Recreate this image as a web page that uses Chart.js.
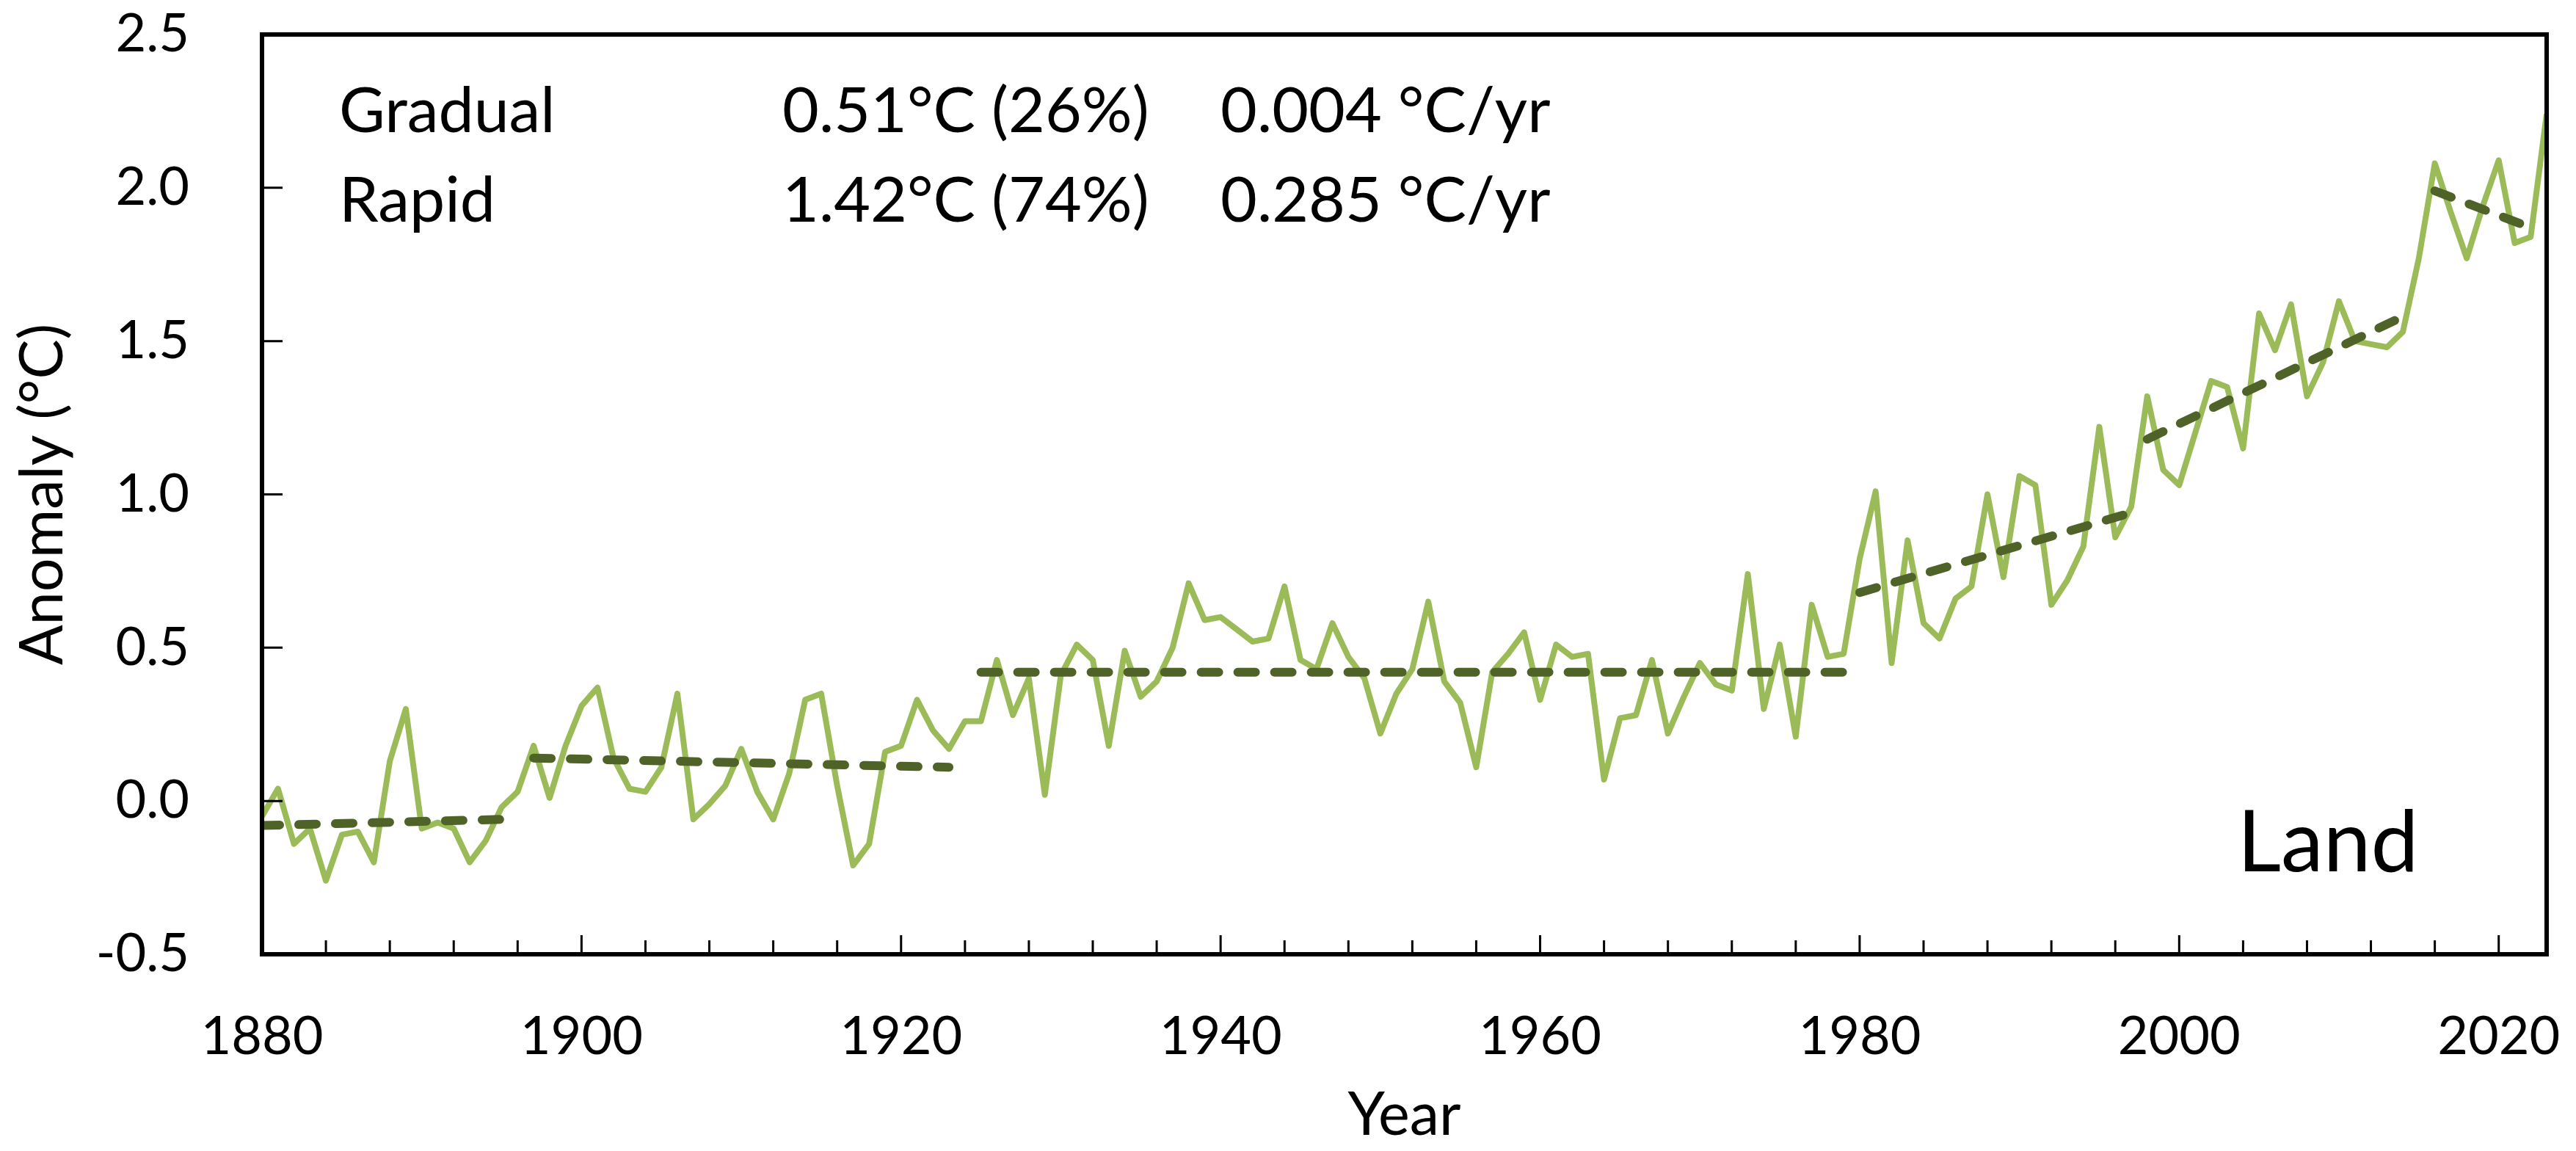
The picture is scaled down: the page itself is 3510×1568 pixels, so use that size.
<!DOCTYPE html>
<html>
<head>
<meta charset="utf-8">
<title>Land temperature anomaly</title>
<script src="https://cdn.jsdelivr.net/npm/chart.js@4.4.1/dist/chart.umd.min.js"></script>
<style>
  html, body { margin: 0; padding: 0; background: #fff; }
  #wrap { width: 3510px; height: 1568px; }
</style>
</head>
<body>
<div id="wrap"><canvas id="chart" width="3510" height="1568"></canvas></div>
<script>
// Land anomaly (°C), one value per year starting in 1880
const firstYear = 1880;
const anomaly = [
  -0.05, 0.04, -0.14, -0.09, -0.26, -0.11, -0.10, -0.20, 0.13, 0.30,   // 1880s
  -0.09, -0.07, -0.09, -0.20, -0.13, -0.02, 0.03, 0.18, 0.01, 0.18,    // 1890s
  0.31, 0.37, 0.14, 0.04, 0.03, 0.11, 0.35, -0.06, -0.01, 0.05,        // 1900s
  0.17, 0.03, -0.06, 0.09, 0.33, 0.35, 0.05, -0.21, -0.14, 0.16,       // 1910s
  0.18, 0.33, 0.23, 0.17, 0.26, 0.26, 0.46, 0.28, 0.40, 0.02,          // 1920s
  0.41, 0.51, 0.46, 0.18, 0.49, 0.34, 0.39, 0.50, 0.71, 0.59,          // 1930s
  0.60, 0.56, 0.52, 0.53, 0.70, 0.46, 0.43, 0.58, 0.47, 0.40,          // 1940s
  0.22, 0.35, 0.43, 0.65, 0.39, 0.32, 0.11, 0.42, 0.48, 0.55,          // 1950s
  0.33, 0.51, 0.47, 0.48, 0.07, 0.27, 0.28, 0.46, 0.22, 0.34,          // 1960s
  0.45, 0.38, 0.36, 0.74, 0.30, 0.51, 0.21, 0.64, 0.47, 0.48,          // 1970s
  0.79, 1.01, 0.45, 0.85, 0.58, 0.53, 0.66, 0.70, 1.00, 0.73,          // 1980s
  1.06, 1.03, 0.64, 0.72, 0.83, 1.22, 0.86, 0.96, 1.32, 1.08,          // 1990s
  1.03, 1.20, 1.37, 1.35, 1.15, 1.59, 1.47, 1.62, 1.32, 1.43,          // 2000s
  1.63, 1.50, 1.49, 1.48, 1.53, 1.77, 2.08, 1.92, 1.77, 1.94,          // 2010s
  2.09, 1.82, 1.84, 2.24                                               // 2020s
];

// piecewise trend segments (dashed)
const trendStart    = [1880, 1897, 1925, 1980, 1998, 2016];
const trendEnd      = [1895, 1923, 1979, 1997, 2014, 2022];
const trendStartVal = [-0.08, 0.14, 0.42, 0.68, 1.18, 1.99];
const trendEndVal   = [-0.06, 0.11, 0.42, 0.94, 1.58, 1.87];

const xTickYears = [1880, 1900, 1920, 1940, 1960, 1980, 2000, 2020];
const minorStep = 4;
const yTickValues = [-0.5, 0, 0.5, 1, 1.5, 2, 2.5];

const noteRows = [
  ['Gradual', '0.51°C (26%)', '0.004 °C/yr'],
  ['Rapid', '1.42°C (74%)', '0.285 °C/yr']
];
const panelLabel = 'Land';

const lineGreen = '#9BBB59';
const trendGreen = '#4F6228';
const fontFamily = 'Lato';

const landSet = {
  label: 'Land',
  data: anomaly.map((v, i) => ({ x: firstYear + i, y: v })),
  borderColor: lineGreen,
  borderWidth: 8,
  borderJoinStyle: 'round',
  pointRadius: 0,
  tension: 0,
  order: 2
};

const trendSets = trendStart.map((s, i) => ({
  label: 'trend ' + (i + 1),
  data: [{ x: s, y: trendStartVal[i] }, { x: trendEnd[i], y: trendEndVal[i] }],
  borderColor: trendGreen,
  borderWidth: 12,
  borderDash: [24, 26],
  borderCapStyle: 'round',
  pointRadius: 0,
  order: 1
}));

// scales keep a fixed size, no extra room for edge labels
const fixBox = (s, w, h) => {
  if (w) s.width = w;
  if (h) s.height = h;
  s.paddingTop = 0;
  s.paddingBottom = 0;
  s.paddingLeft = 0;
  s.paddingRight = 0;
};

// frame, inside tick marks and the text notes
const framePlugin = {
  id: 'frame',
  afterDatasetsDraw(chart) {
    const { ctx, chartArea: a, scales: { x, y } } = chart;
    ctx.save();
    ctx.strokeStyle = '#000';
    ctx.lineWidth = 3;
    ctx.beginPath();
    yTickValues.forEach(v => {
      const py = y.getPixelForValue(v);
      ctx.moveTo(a.left, py);
      ctx.lineTo(a.left + 28, py);
    });
    for (let yr = firstYear; yr <= x.max; yr += minorStep) {
      const px = x.getPixelForValue(yr);
      const len = xTickYears.includes(yr) ? 26 : 19;
      ctx.moveTo(px, a.bottom);
      ctx.lineTo(px, a.bottom - len);
    }
    ctx.stroke();
    ctx.lineWidth = 6;
    ctx.strokeRect(a.left, a.top, a.right - a.left, a.bottom - a.top);

    ctx.fillStyle = '#000';
    ctx.textBaseline = 'alphabetic';
    ctx.textAlign = 'left';
    ctx.font = '86px ' + fontFamily;
    const cols = [a.left + 105, a.left + 709, a.left + 1306];
    noteRows.forEach((row, r) => {
      row.forEach((t, c) => ctx.fillText(t, cols[c], a.top + 133 + r * 122));
    });
    ctx.font = '116px ' + fontFamily;
    ctx.textAlign = 'center';
    ctx.fillText(panelLabel, a.right - 298, a.bottom - 113);
    ctx.restore();
  }
};

function draw() {
  const ctx = document.getElementById('chart').getContext('2d');
  new Chart(ctx, {
    type: 'line',
    data: { datasets: [...trendSets, landSet] },
    options: {
      responsive: false,
      animation: false,
      devicePixelRatio: 1,
      layout: { padding: { top: 47, right: 40, left: 0, bottom: 0 } },
      plugins: { legend: { display: false }, tooltip: { enabled: false } },
      scales: {
        x: {
          type: 'linear',
          min: 1880,
          max: 2023,
          grid: { display: false, drawTicks: false },
          border: { display: false },
          afterBuildTicks: s => { s.ticks = xTickYears.map(v => ({ value: v })); },
          afterFit: s => fixBox(s, 0, 268),
          ticks: {
            padding: 70,
            maxRotation: 0,
            autoSkip: false,
            color: '#000',
            font: { family: fontFamily, size: 72 },
            callback: v => String(v)
          },
          title: {
            display: true,
            text: 'Year',
            color: '#000',
            font: { family: fontFamily, size: 81 },
            padding: { top: 0, bottom: 0 }
          }
        },
        y: {
          min: -0.5,
          max: 2.5,
          grid: { display: false, drawTicks: false },
          border: { display: false },
          afterBuildTicks: s => { s.ticks = yTickValues.map(v => ({ value: v })); },
          afterFit: s => fixBox(s, 357, 0),
          ticks: {
            padding: 99,
            color: '#000',
            font: { family: fontFamily, size: 72 },
            callback: v => v.toFixed(1)
          },
          title: {
            display: true,
            text: 'Anomaly (°C)',
            color: '#000',
            font: { family: fontFamily, size: 81 },
            padding: { top: 10, bottom: 0 }
          }
        }
      }
    },
    plugins: [framePlugin]
  });
}

document.fonts.load('72px ' + fontFamily).then(draw, draw);
</script>
</body>
</html>
